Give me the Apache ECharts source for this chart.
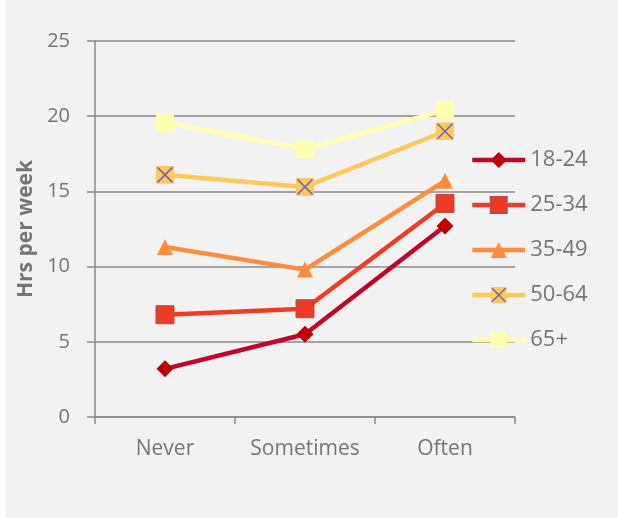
<!DOCTYPE html>
<html><head><meta charset="utf-8">
<script src="https://cdn.jsdelivr.net/npm/echarts@6/dist/echarts.min.js"></script>
<style>html,body{margin:0;padding:0;background:#fff}#c{width:618px;height:518px}</style>
</head><body><div id="c"></div>
<script>
const categories = ['Never', 'Sometimes', 'Often'];
const seriesNames = ['18-24', '25-34', '35-49', '50-64', '65+'];
const v18_24 = [3.2, 5.5, 12.7];
const v25_34 = [6.8, 7.2, 14.2];
const v35_49 = [11.3, 9.8, 15.7];
const v50_64 = [16.1, 15.3, 19.0];
const v65plus = [19.6, 17.8, 20.4];
const yTicks = [0, 5, 10, 15, 20, 25];

const xSvg = '<svg xmlns="http://www.w3.org/2000/svg" width="18" height="18" viewBox="0 0 18 18"><rect x="0" y="0" width="18" height="18" fill="#ffc85a"/><path d="M1.5 1.5 L16.5 16.5 M16.5 1.5 L1.5 16.5" stroke="#7b64a6" stroke-width="1.6"/></svg>';
const xSymbol = 'image://data:image/svg+xml;charset=utf-8,' + encodeURIComponent(xSvg);

const font = '"Open Sans", sans-serif';
const labelColor = '#757575';
const axisColor = '#8a8a8a';

const styles = [
  {color: '#c0042a', symbol: 'diamond', size: 17, mcolor: '#c00000', border: null},
  {color: '#f03c22', symbol: 'rect', size: 18, mcolor: '#ee3b22', border: '#b84a4e'},
  {color: '#ff8c3a', symbol: 'triangle', size: 16, mcolor: '#ff8c3a', border: null},
  {color: '#ffc85a', symbol: xSymbol, size: 18, mcolor: '#ffc85a', border: null},
  {color: '#ffffaf', symbol: 'rect', size: 18, mcolor: '#ffffaf', border: null}
];
const values = [v18_24, v25_34, v35_49, v50_64, v65plus];

const chart = echarts.init(document.getElementById('c'), null, {renderer: 'canvas'});
chart.setOption({
  backgroundColor: '#f2f2f2',
  animation: false,
  graphic: [{type: 'rect', shape: {x: 0, y: 0, width: 5, height: 518}, style: {fill: '#ffffff'}, silent: true}],
  grid: {left: 95, right: 103, top: 41, bottom: 101, containLabel: false},
  legend: {
    orient: 'vertical', left: 465, top: 144, itemWidth: 53, itemHeight: 20, itemGap: 23,
    lineStyle: {width: 4.5},
    textStyle: {fontFamily: font, fontSize: 22, color: labelColor, lineHeight: 20},
    data: seriesNames
  },
  xAxis: {
    type: 'category', data: categories, boundaryGap: true,
    axisLine: {lineStyle: {color: axisColor, width: 1.5}},
    axisTick: {show: true, length: 7, lineStyle: {color: axisColor, width: 1.5}},
    axisLabel: {fontFamily: font, fontSize: 21, color: labelColor, margin: 22, interval: 0},
    splitLine: {show: false}
  },
  yAxis: {
    type: 'value', min: 0, max: 25, interval: 5,
    name: 'Hrs per week', nameLocation: 'middle', nameGap: 58, nameRotate: 90,
    nameTextStyle: {fontFamily: font, fontSize: 21, fontWeight: 'bold', color: labelColor},
    axisLine: {show: true, lineStyle: {color: axisColor, width: 1.5}},
    axisTick: {show: true, length: 8, inside: false, lineStyle: {color: axisColor, width: 1.5}},
    axisLabel: {fontFamily: font, fontSize: 20, color: labelColor, margin: 25,
      formatter: v => yTicks.includes(v) ? String(v) : ''},
    splitLine: {show: true, lineStyle: {color: axisColor, width: 1.5}}
  },
  series: seriesNames.map((n, i) => ({
    name: n, type: 'line', data: values[i],
    symbol: styles[i].symbol, symbolSize: styles[i].size, showAllSymbol: true,
    lineStyle: {color: styles[i].color, width: 4.5},
    itemStyle: {color: styles[i].mcolor, borderColor: styles[i].border || styles[i].mcolor, borderWidth: styles[i].border ? 1 : 0},
    emphasis: {disabled: true}
  }))
});
</script></body></html>
